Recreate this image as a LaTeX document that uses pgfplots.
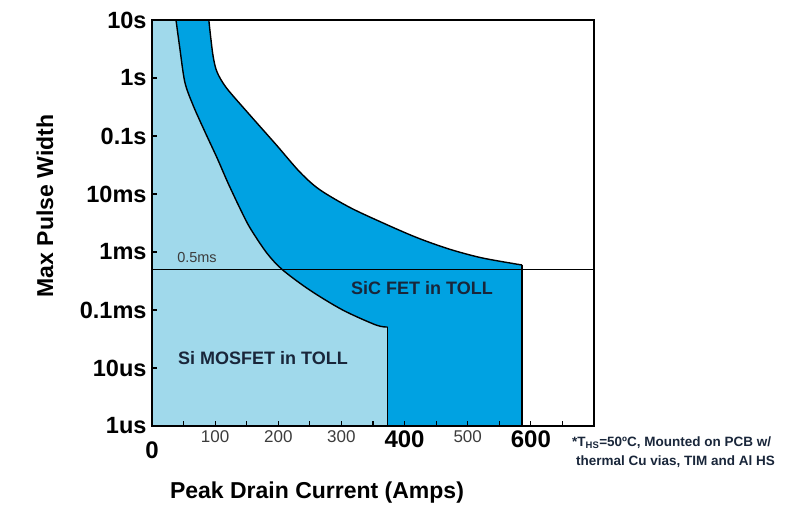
\documentclass[border=0pt]{standalone}
\usepackage{pgfplots}
\pgfplotsset{compat=1.18}
\usepackage{fontspec}
\setmainfont{Liberation Sans}
\definecolor{siblue}{RGB}{160,217,235}
\definecolor{sicblue}{RGB}{0,162,226}
\definecolor{navy}{RGB}{25,38,58}
\definecolor{tickgray}{RGB}{60,60,60}
\newcommand{\bigtick}[1]{{\fontsize{24bp}{26bp}\bfseries\selectfont\color{black}#1}}
\begin{document}
\begin{tikzpicture}
\path[use as bounding box] (0,0) rectangle (810bp,519bp);
\begin{axis}[
  at={(152bp,93bp)}, anchor=south west,
  scale only axis, width=442bp, height=406bp,
  xmin=0, xmax=700, ymin=1e-6, ymax=10,
  ymode=log,
  axis on top=true,
  axis line style={line width=1.8bp},
  tick pos=left, tick align=inside,
  major tick length=5bp,
  every tick/.style={black, line width=1.2bp},
  xtick={50,100,150,200,250,300,350,450,500,550,650},
  xticklabels={,100,,200,,300,,,500,,},
  x tick label style={font=\fontsize{17bp}{18bp}\selectfont, text=tickgray, yshift=-1bp},
  extra x ticks={400,600},
  extra x tick labels={\bigtick{400},\bigtick{600}},
  ytick={1e-6,1e-5,1e-4,1e-3,1e-2,1e-1,1,10},
  yticklabels={1us,10us,0.1ms,1ms,10ms,0.1s,1s,10s},
  y tick label style={font=\fontsize{23.5bp}{25bp}\bfseries\selectfont, xshift=-2bp},
  yminorticks=false,
]
% SiC FET area
\addplot[fill=sicblue, draw=none, smooth, tension=0.5] coordinates {
 (90,10) (93,5) (97,2.3) (103,1.27) (118,0.673) (155,0.23)
 (197,0.07) (234,0.024) (265,0.0120) (313,0.00589) (365,0.0032)
 (419,0.00178) (471,0.00112) (523,7.9e-4) (586,5.97e-4)
} -- (axis cs:586,1e-6) -- (axis cs:0,1e-6) -- (axis cs:0,10) -- cycle;
% Si MOSFET area
\addplot[fill=siblue, draw=none, smooth, tension=0.5] coordinates {
 (38,10) (44,3.3) (52,0.85) (65,0.34) (84,0.117)
 (103,0.042) (120,0.0158) (139,0.00575) (155,0.00263) (182,9.55e-4)
 (207,4.9e-4) (250,2.2e-4) (302,1.0e-4) (355,5.5e-5) (373,5.1e-5)
} -- (axis cs:373,1e-6) -- (axis cs:0,1e-6) -- (axis cs:0,10) -- cycle;
% outlines
\addplot[black, line width=1.4bp, smooth, tension=0.5] coordinates {
 (90,10) (93,5) (97,2.3) (103,1.27) (118,0.673) (155,0.23)
 (197,0.07) (234,0.024) (265,0.0120) (313,0.00589) (365,0.0032)
 (419,0.00178) (471,0.00112) (523,7.9e-4) (586,5.97e-4)
};
\addplot[black, line width=1.4bp] coordinates {(586,5.97e-4) (586,1e-6)};
\addplot[black, line width=1.4bp, smooth, tension=0.5] coordinates {
 (38,10) (44,3.3) (52,0.85) (65,0.34) (84,0.117)
 (103,0.042) (120,0.0158) (139,0.00575) (155,0.00263) (182,9.55e-4)
 (207,4.9e-4) (250,2.2e-4) (302,1.0e-4) (355,5.5e-5) (373,5.1e-5)
};
\addplot[black, line width=1.4bp] coordinates {(373,5.1e-5) (373,1e-6)};
% 0.5 ms line
\addplot[black, line width=1.1bp] coordinates {(0,5e-4) (700,5e-4)};
\end{axis}
\node[font=\fontsize{24bp}{26bp}\bfseries\selectfont] at (152bp,69bp) {0};
\node[font=\fontsize{14.5bp}{16bp}\selectfont, text=tickgray] at (197bp,261bp) {0.5ms};
\node[font=\fontsize{18bp}{20bp}\bfseries\selectfont, text=navy] at (422bp,231bp) {SiC FET in TOLL};
\node[font=\fontsize{18bp}{20bp}\bfseries\selectfont, text=navy] at (263bp,161bp) {Si MOSFET in TOLL};
\node[font=\fontsize{23bp}{25bp}\bfseries\selectfont, rotate=90] at (45bp,313bp) {Max Pulse Width};
\node[font=\fontsize{23bp}{25bp}\bfseries\selectfont] at (317bp,26bp) {Peak Drain Current (Amps)};
\node[font=\fontsize{13.5bp}{15bp}\bfseries\selectfont, text=navy, anchor=west, inner sep=0pt] at (572bp,76bp) {*T\textsubscript{HS}=50ºC, Mounted on PCB w/};
\node[font=\fontsize{13.5bp}{15bp}\bfseries\selectfont, text=navy, anchor=west, inner sep=0pt] at (576bp,57bp) {thermal Cu vias, TIM and Al HS};
\end{tikzpicture}
\end{document}
